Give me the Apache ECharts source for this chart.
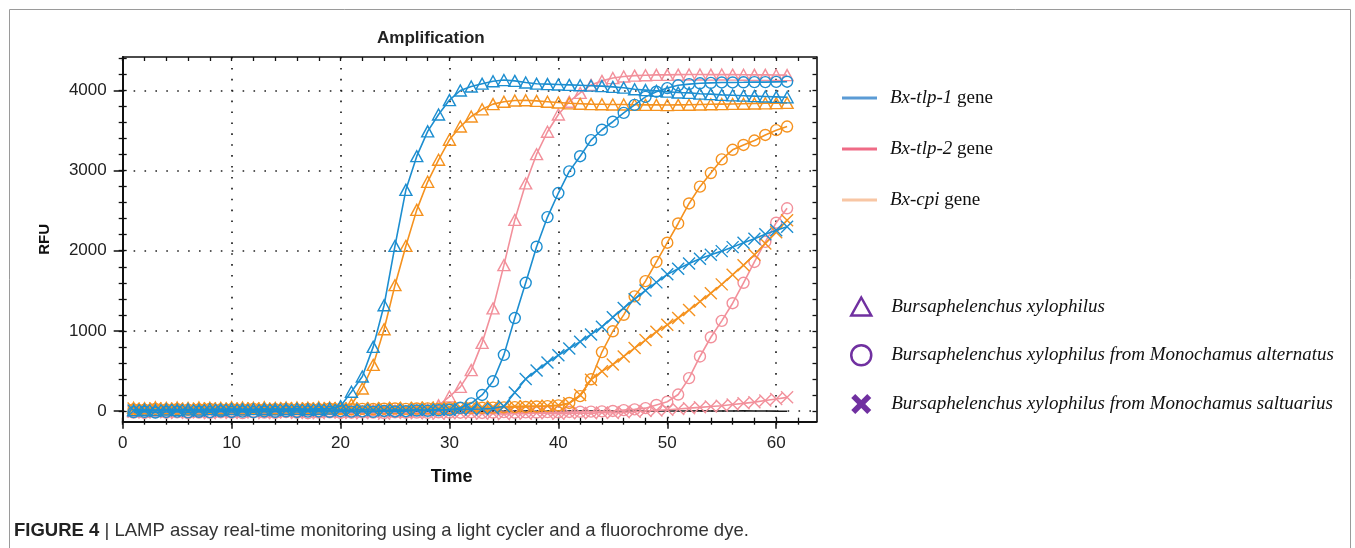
<!DOCTYPE html>
<html><head><meta charset="utf-8">
<script src="https://cdn.jsdelivr.net/npm/echarts@6/dist/echarts.min.js"></script>
<style>html,body{margin:0;padding:0;background:#fff}#c{width:1355px;height:548px}</style>
</head><body><div id="c"></div>
<script>
// ---- data ----
const times = [1,2,3,4,5,6,7,8,9,10,11,12,13,14,15,16,17,18,19,20,21,22,23,24,25,26,27,28,29,30,31,32,33,34,35,36,37,38,39,40,41,42,43,44,45,46,47,48,49,50,51,52,53,54,55,56,57,58,59,60,61];

// Bx-tlp-1 gene
const tlp1_Bx = [10,15,12,18,14,20,16,22,18,24,20,22,25,20,24,26,22,28,30,
  60,240,430,800,1320,2060,2760,3180,3490,3700,
  3880,4000,4050,4085,4115,4130,4120,4100,4085,4080,
  4075,4070,4065,4060,4055,4045,4035,4015,4005,3995,
  3985,3975,3970,3960,3955,3945,3940,3935,3930,3925,
  3920,3915];
const tlp1_Ma = [-15,-10,-20,-12,-8,-18,-10,-15,-5,-12,
  -8,-14,-6,-10,-4,-12,-8,-6,-10,-2,
  -8,-5,-10,0,-6,-3,5,2,8,15,40,
  95,200,370,700,1160,1600,2050,2420,2720,2990,
  3180,3380,3510,3610,3720,3820,3920,3985,4030,4065,
  4080,4090,4095,4100,4100,4102,4105,4105,4108,4110];
const tlp1_Ms = [5,10,0,8,12,4,10,6,14,8,
  12,6,10,15,8,12,10,14,9,13,
  10,15,12,8,14,10,16,12,18,14,
  20,22,25,30,
  60,230,400,505,605,695,780,865,955,1050,
  1170,1285,1395,1505,1605,1705,1775,1840,1900,1950,
  1995,2045,2100,2150,2205,2255,2300];

// Bx-tlp-2 gene
const tlp2_Bx = [0,-10,5,-5,10,-8,2,-12,6,-4,
  8,-6,3,-10,5,-2,8,-5,0,-8,
  4,-6,10,-3,5,-8,12,20,
  70,180,300,510,850,1280,1820,2385,2840,3205,
  3485,3700,3860,3970,4070,4120,4155,4175,4185,4190,
  4195,4195,4198,4200,4200,4198,4200,4198,4196,4195,
  4195,4193,4192];
const tlp2_Ma = [-20,-25,-15,-22,-18,-28,-20,-24,-16,-22,
  -26,-18,-20,-24,-15,-22,-28,-20,-18,-25,
  -22,-16,-20,-26,-18,-22,-20,-24,-16,-20,
  -22,-18,-25,-20,-15,-22,-18,-20,-15,-18,
  -12,-10,-8,-5,0,10,20,35,
  75,115,205,410,680,920,1125,1345,1600,1860,
  2110,2350,2530];
const tlp2_Ms = [-10,-20,-5,-15,-25,-10,-20,-30,-15,-25,
  -20,-10,-30,-20,-15,-25,-20,-30,-15,-20,
  -25,-30,-20,-35,-25,-20,-30,-25,-35,-30,
  -25,-30,-35,-30,-40,-30,-35,-25,-30,-35,
  -30,-25,-30,-20,-25,-15,-10,0,5,15,
  25,35,45,55,65,80,95,110,130,150,
  170];

// Bx-cpi gene
const cpi_Bx = [40,35,45,38,42,36,44,40,38,45,42,40,46,38,44,42,40,45,42,
  35,80,280,575,1020,1570,2060,2510,2860,3135,
  3385,3550,3675,3765,3830,3860,3875,3878,3870,3860,
  3850,3840,3835,3830,3828,3825,3825,3822,3820,3820,
  3818,3820,3822,3825,3828,3830,3832,3835,3838,3840,
  3842,3845];
const cpi_Ma = [20,15,25,18,22,15,20,24,18,22,
  20,25,18,22,26,20,24,22,28,25,
  22,26,24,28,30,26,30,32,28,34,
  36,38,40,42,45,48,50,55,60,70,
  100,185,395,735,995,1200,1430,1620,1860,2100,
  2340,2590,2800,2970,3140,3260,3320,3375,3445,3505,
  3550];
const cpi_Ms = [30,25,35,28,32,26,30,34,28,32,
  30,35,28,32,36,30,34,32,38,35,
  32,36,34,38,40,36,40,42,38,44,
  46,48,50,52,55,58,60,62,65,70,
  95,200,390,495,580,680,785,885,990,1075,
  1160,1260,1365,1470,1580,1700,1820,1950,2090,2230,
  2380];

// negative control (black trace)
const ntc = [-8,-6,-9,-7,-5,-8,-6,-7,-5,-6,
  -7,-5,-6,-4,-6,-5,-7,-4,-5,-6,
  -4,-5,-3,-5,-4,-3,-5,-2,-4,-3,
  -2,-4,-3,-1,-3,-2,-1,-3,-2,0,
  -1,-2,0,-1,1,-1,0,-2,0,-1,
  0,-1,1,0,-1,0,1,-1,0,-2,
  -3];

const geneNames = ['Bx-tlp-1 gene','Bx-tlp-2 gene','Bx-cpi gene'];
const sampleNames = ['Bursaphelenchus xylophilus','Bursaphelenchus xylophilus from Monochamus alternatus','Bursaphelenchus xylophilus from Monochamus saltuarius'];

const xMajor = [0,10,20,30,40,50,60];
const xMinor = [0,2,4,6,8,10,12,14,16,18,20,22,24,26,28,30,32,34,36,38,40,42,44,46,48,50,52,54,56,58,60,62];
const yMajor = [0,1000,2000,3000,4000];
const yMinor = [0,200,400,600,800,1000,1200,1400,1600,1800,2000,2200,2400,2600,2800,3000,3200,3400,3600,3800,4000,4200,4400];

// ---- styles ----
const BLUE = '#1d8ed0', PINK = '#f2909b', ORANGE = '#f5921f';
const LEG_BLUE = '#5b9bd5', LEG_PINK = '#ef6b86', LEG_PEACH = '#f8c6a4', PURPLE = '#7030a0';
const SYM_TRI = 'path://M10,0 L20,18 L0,18 Z';
const SYM_X = 'path://M0,0 L10,10 M10,0 L0,10';
const SYM_XFILL = 'path://M4,0 L10,6 L16,0 L20,4 L14,10 L20,16 L16,20 L10,14 L4,20 L0,16 L6,10 L0,4 Z';

function mk(name, vals, color, symbol, size, z) {
  return {
    type: 'line', name: name, z: z,
    data: times.map((t, i) => [t, vals[i]]),
    symbol: symbol, symbolSize: size, showSymbol: true,
    lineStyle: { color: color, width: 1.6 },
    itemStyle: { color: 'rgba(0,0,0,0)', borderColor: color, borderWidth: 1.4 },
    emphasis: { disabled: true }, silent: true
  };
}

const series = [
  { type: 'line', name: 'NTC', z: 1, data: times.map((t, i) => [t, ntc[i]]), symbol: 'none',
    lineStyle: { color: '#1a1a1a', width: 1.6 }, silent: true },
  mk('tlp2 Ms', tlp2_Ms, PINK, SYM_X, 12, 2),
  mk('tlp2 Ma', tlp2_Ma, PINK, 'circle', 11, 2),
  mk('tlp2 Bx', tlp2_Bx, PINK, SYM_TRI, [12, 11], 2),
  mk('cpi Ms', cpi_Ms, ORANGE, SYM_X, 12, 3),
  mk('cpi Ma', cpi_Ma, ORANGE, 'circle', 11, 3),
  mk('cpi Bx', cpi_Bx, ORANGE, SYM_TRI, [12, 11], 3),
  mk('tlp1 Ms', tlp1_Ms, BLUE, SYM_X, 12, 4),
  mk('tlp1 Ma', tlp1_Ma, BLUE, 'circle', 11, 4),
  mk('tlp1 Bx', tlp1_Bx, BLUE, SYM_TRI, [12, 11], 4),
  // legend-only entries
  { type: 'line', name: geneNames[0], data: [], color: LEG_BLUE, itemStyle: { color: LEG_BLUE } },
  { type: 'line', name: geneNames[1], data: [], color: LEG_PINK, itemStyle: { color: LEG_PINK } },
  { type: 'line', name: geneNames[2], data: [], color: LEG_PEACH, itemStyle: { color: LEG_PEACH } },
  { type: 'line', name: sampleNames[0], data: [], itemStyle: { color: 'rgba(0,0,0,0)', borderColor: PURPLE, borderWidth: 2.5 } },
  { type: 'line', name: sampleNames[1], data: [], itemStyle: { color: 'rgba(0,0,0,0)', borderColor: PURPLE, borderWidth: 2.5 } },
  { type: 'line', name: sampleNames[2], data: [], itemStyle: { color: PURPLE, borderWidth: 0 } }
];

const AX = '#111';
const DOT = { type: [1.6, 9.3], color: '#222', width: 1.7 };
const SANS = 'Liberation Sans, Arial, sans-serif';
const SERIF = 'Liberation Serif, Times New Roman, serif';
const LBL = { fontFamily: SANS, fontSize: 17, color: '#222', formatter: function (v) { return String(v); } };
const XMIN = 0, XMAX = 63.7, YMIN = -134, YMAX = 4418;

function minorAxis(pos, inside, len, ticks, isX) {
  return { type: 'value', min: isX ? XMIN : YMIN, max: isX ? XMAX : YMAX, position: pos, offset: 0,
    axisLine: { show: false, onZero: false },
    axisTick: { show: true, customValues: ticks, length: len, inside: inside, lineStyle: { color: AX, width: 1.3 } },
    axisLabel: { show: false }, splitLine: { show: false } };
}

const option = {
  animation: false,
  backgroundColor: '#fff',
  title: { text: 'Amplification', left: 372, top: 25,
    textStyle: { fontFamily: SANS, fontSize: 17, fontWeight: 'bold', color: '#222' } },
  grid: { left: 122.7, right: 538.5, top: 57, bottom: 126.3, containLabel: false },
  xAxis: [
    { type: 'value', min: XMIN, max: XMAX, position: 'bottom',
      axisLine: { show: true, onZero: false, lineStyle: { color: AX, width: 2 } },
      axisTick: { show: true, customValues: xMajor, length: 7, inside: false, lineStyle: { color: AX, width: 1.5 } },
      axisLabel: Object.assign({ customValues: xMajor, margin: 13 }, LBL),
      splitLine: { show: true, lineStyle: DOT },
      name: 'Time', nameLocation: 'middle', nameGap: 46,
      nameTextStyle: { fontFamily: SANS, fontSize: 18, fontWeight: 'bold', color: '#111', padding: [0, 36, 0, 0] } },
    minorAxis('bottom', true, 4, xMinor, true),
    minorAxis('bottom', false, 3, xMinor, true),
    { type: 'value', min: XMIN, max: XMAX, position: 'top',
      axisLine: { show: true, onZero: false, lineStyle: { color: AX, width: 1.6 } },
      axisTick: { show: true, customValues: xMinor, length: 4, inside: true, lineStyle: { color: AX, width: 1.3 } },
      axisLabel: { show: false }, splitLine: { show: false } }
  ],
  yAxis: [
    { type: 'value', min: YMIN, max: YMAX, position: 'left',
      axisLine: { show: true, onZero: false, lineStyle: { color: AX, width: 2 } },
      axisTick: { show: true, customValues: yMajor, length: 9, inside: false, lineStyle: { color: AX, width: 1.5 } },
      axisLabel: Object.assign({ customValues: yMajor, margin: 16 }, LBL),
      splitLine: { show: true, lineStyle: DOT },
      name: 'RFU', nameLocation: 'middle', nameGap: 70,
      nameTextStyle: { fontFamily: SANS, fontSize: 15, fontWeight: 'bold', color: '#111' } },
    minorAxis('left', true, 4, yMinor, false),
    minorAxis('left', false, 4, yMinor, false),
    { type: 'value', min: YMIN, max: YMAX, position: 'right',
      axisLine: { show: true, onZero: false, lineStyle: { color: AX, width: 1.6 } },
      axisTick: { show: true, customValues: yMinor, length: 4, inside: true, lineStyle: { color: AX, width: 1.3 } },
      axisLabel: { show: false }, splitLine: { show: false } }
  ],
  legend: [
    { orient: 'vertical', left: 842, top: 88, padding: 0, itemWidth: 35, itemHeight: 3, itemGap: 31, icon: 'rect',
      selectedMode: false, data: geneNames,
      formatter: function (n) { const k = n.lastIndexOf(' '); return '{s|}{i|' + n.slice(0, k) + '}' + n.slice(k); },
      textStyle: { fontFamily: SERIF, fontSize: 19, color: '#111', lineHeight: 20,
        rich: { s: { width: 8 }, i: { fontStyle: 'italic', fontFamily: SERIF, fontSize: 19, lineHeight: 20, color: '#111' } } } },
    { orient: 'vertical', left: 850, top: 296, padding: 0, itemWidth: 20, itemHeight: 20, itemGap: 27,
      selectedMode: false,
      data: [
        { name: sampleNames[0], icon: SYM_TRI, itemStyle: { color: 'rgba(0,0,0,0)', borderColor: PURPLE, borderWidth: 2.5 } },
        { name: sampleNames[1], icon: 'circle', itemStyle: { color: 'rgba(0,0,0,0)', borderColor: PURPLE, borderWidth: 2.5 } },
        { name: sampleNames[2], icon: SYM_XFILL, itemStyle: { color: PURPLE, borderWidth: 0 } }
      ],
      formatter: function (n) { return '{s|}' + n; },
      textStyle: { fontFamily: SERIF, fontStyle: 'italic', fontSize: 19, color: '#111', lineHeight: 21,
        rich: { s: { width: 15 } } } }
  ],
  graphic: [
    { type: 'rect', silent: true, z: -10, shape: { x: 9.5, y: 9.5, width: 1341, height: 600 },
      style: { fill: 'none', stroke: '#9a9a9a', lineWidth: 1 } },
    { type: 'text', left: 14, top: 521, silent: true,
      style: { text: '{b|FIGURE 4} | LAMP assay real-time monitoring using a light cycler and a fluorochrome dye.',
        fontFamily: SANS, fontSize: 18.5, fill: '#333',
        rich: { b: { fontWeight: 'bold', fontFamily: SANS, fontSize: 18.5, fill: '#222' } } } }
  ],
  series: series
};

const chart = echarts.init(document.getElementById('c'), null, { renderer: 'canvas' });
chart.setOption(option);
</script>
</body></html>
